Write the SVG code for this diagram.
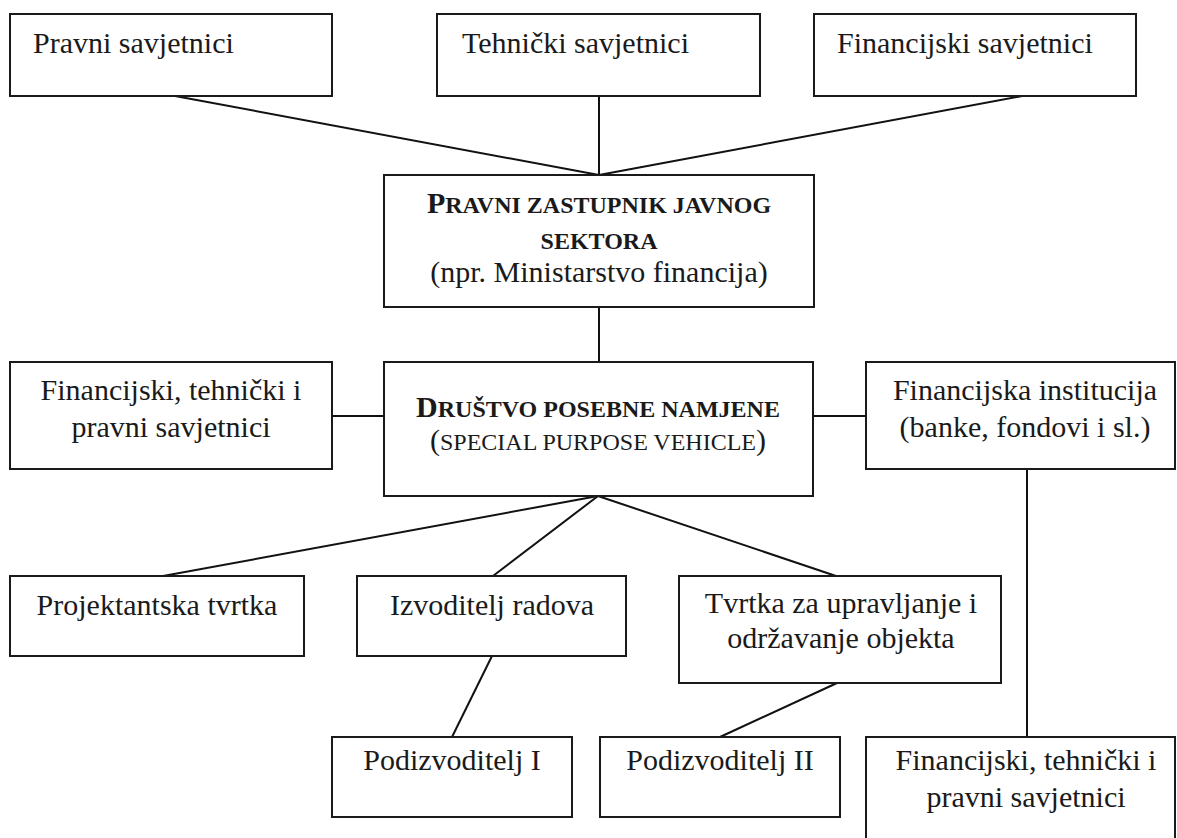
<svg xmlns="http://www.w3.org/2000/svg" width="1177" height="838" viewBox="0 0 1177 838">
<style>
  .box { fill: #fff; stroke: #1a1a1a; stroke-width: 2; }
  .t { font-family: "Liberation Serif", "Times New Roman", serif; font-size: 30px; fill: #1a1a1a; }
  .c { text-anchor: middle; }
  .b { font-weight: bold; }
  .sc { font-size: 24px; }
  .conn line { stroke: #111; stroke-width: 2; }
</style>
<rect width="1177" height="838" fill="#fff"/>
<g class="conn" id="connectors">
  <line x1="175" y1="96" x2="599" y2="175"/>
  <line x1="599" y1="96" x2="599" y2="175"/>
  <line x1="1022" y1="96" x2="599" y2="175"/>
  <line x1="599" y1="307" x2="599" y2="362"/>
  <line x1="332" y1="416" x2="384" y2="416"/>
  <line x1="813" y1="416" x2="866" y2="416"/>
  <line x1="598" y1="496" x2="163" y2="576"/>
  <line x1="598" y1="496" x2="493" y2="576"/>
  <line x1="598" y1="496" x2="836" y2="576"/>
  <line x1="492" y1="656" x2="452" y2="737"/>
  <line x1="837" y1="683" x2="720" y2="737"/>
  <line x1="1027" y1="469" x2="1027" y2="737"/>
</g>
<g id="n_pravni">
  <rect class="box" x="10" y="14" width="322" height="82"/>
  <text class="t" x="33" y="53">Pravni savjetnici</text>
</g>
<g id="n_tehnicki">
  <rect class="box" x="437" y="14" width="323" height="82"/>
  <text class="t" x="462" y="53">Tehnički savjetnici</text>
</g>
<g id="n_financijski">
  <rect class="box" x="814" y="14" width="322" height="82"/>
  <text class="t" x="837" y="53">Financijski savjetnici</text>
</g>
<g id="n_pzjs">
  <rect class="box" x="384" y="175" width="430" height="132"/>
  <text class="t c b" x="599" y="213">P<tspan class="sc">RAVNI ZASTUPNIK JAVNOG</tspan></text>
  <text class="t c b sc" x="599" y="249">SEKTORA</text>
  <text class="t c" x="599" y="282">(npr. Ministarstvo financija)</text>
</g>
<g id="n_fth_left">
  <rect class="box" x="10" y="362" width="322" height="107"/>
  <text class="t c" x="171" y="400">Financijski, tehnički i</text>
  <text class="t c" x="171" y="437">pravni savjetnici</text>
</g>
<g id="n_dpn">
  <rect class="box" x="384" y="362" width="429" height="134"/>
  <text class="t c b" x="598" y="417">D<tspan class="sc">RUŠTVO POSEBNE NAMJENE</tspan></text>
  <text class="t c" x="598" y="450">(<tspan class="sc">SPECIAL PURPOSE VEHICLE</tspan>)</text>
</g>
<g id="n_fi">
  <rect class="box" x="866" y="362" width="309" height="107"/>
  <text class="t c" x="1025" y="400">Financijska institucija</text>
  <text class="t c" x="1025" y="437">(banke, fondovi i sl.)</text>
</g>
<g id="n_projekt">
  <rect class="box" x="10" y="576" width="294" height="80"/>
  <text class="t c" x="157" y="615">Projektantska tvrtka</text>
</g>
<g id="n_izvoditelj">
  <rect class="box" x="357" y="576" width="269" height="80"/>
  <text class="t c" x="492" y="615">Izvoditelj radova</text>
</g>
<g id="n_tvrtka">
  <rect class="box" x="679" y="576" width="322" height="107"/>
  <text class="t c" x="841" y="613">Tvrtka za upravljanje i</text>
  <text class="t c" x="841" y="648">održavanje objekta</text>
</g>
<g id="n_pod1">
  <rect class="box" x="332" y="737" width="240" height="80"/>
  <text class="t c" x="452" y="770">Podizvoditelj I</text>
</g>
<g id="n_pod2">
  <rect class="box" x="600" y="737" width="240" height="80"/>
  <text class="t c" x="720" y="770">Podizvoditelj II</text>
</g>
<g id="n_fth_right">
  <rect class="box" x="866" y="737" width="309" height="120"/>
  <text class="t c" x="1026" y="770">Financijski, tehnički i</text>
  <text class="t c" x="1026" y="807">pravni savjetnici</text>
</g>
</svg>
